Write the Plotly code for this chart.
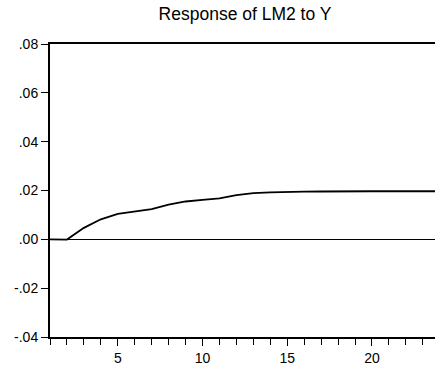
import plotly.graph_objects as go

periods = list(range(1, 25))
response = [0.0, -0.0001, 0.0047, 0.0082, 0.0104, 0.0115, 0.0124, 0.0142, 0.0155, 0.0162,
            0.0168, 0.0181, 0.0189, 0.0192, 0.0192, 0.0195, 0.0196, 0.0197, 0.0197, 0.0197,
            0.0197, 0.0197, 0.0197, 0.0197]
y_tick_values = [-0.04, -0.02, 0.0, 0.02, 0.04, 0.06, 0.08]
y_tick_labels = ["-.04", "-.02", ".00", ".02", ".04", ".06", ".08"]
x_tick_values = [5, 10, 15, 20]
title_text = "Response of LM2 to Y"

FONT = "Liberation Sans, Arial, sans-serif"

fig = go.Figure()
fig.add_trace(go.Scatter(x=periods, y=response, mode="lines",
                         line=dict(color="black", width=1.8), showlegend=False))

fig.update_layout(
    width=435, height=372,
    margin=dict(l=50, r=0, t=44, b=35),
    paper_bgcolor="white", plot_bgcolor="white",
    title=dict(text=title_text, xref="container", x=245 / 435, xanchor="center",
               yref="container", y=1 - 14 / 372, yanchor="middle",
               font=dict(family=FONT, size=17.5, color="black")),
    font=dict(family=FONT, size=13, color="black"),
)
fig.update_xaxes(
    range=[1, 23.72], tickvals=x_tick_values, ticks="outside", ticklen=7, tickwidth=1,
    tickcolor="black", showgrid=False, zeroline=False,
    showline=True, linecolor="black", linewidth=2, mirror=True,
    minor=dict(dtick=1, tick0=1, ticks="outside", ticklen=6, tickcolor="black", tickwidth=1, showgrid=False),
    tickfont=dict(family=FONT, size=14, color="black"),
)
fig.update_yaxes(
    range=[-0.04, 0.08], tickvals=y_tick_values, ticktext=y_tick_labels,
    ticks="outside", ticklen=7, tickwidth=1, tickcolor="black",
    showgrid=False, zeroline=True, zerolinecolor="black", zerolinewidth=1,
    showline=True, linecolor="black", linewidth=2, mirror=False,
    tickfont=dict(family=FONT, size=14, color="black"),
)

fig.write_html("out.html")
